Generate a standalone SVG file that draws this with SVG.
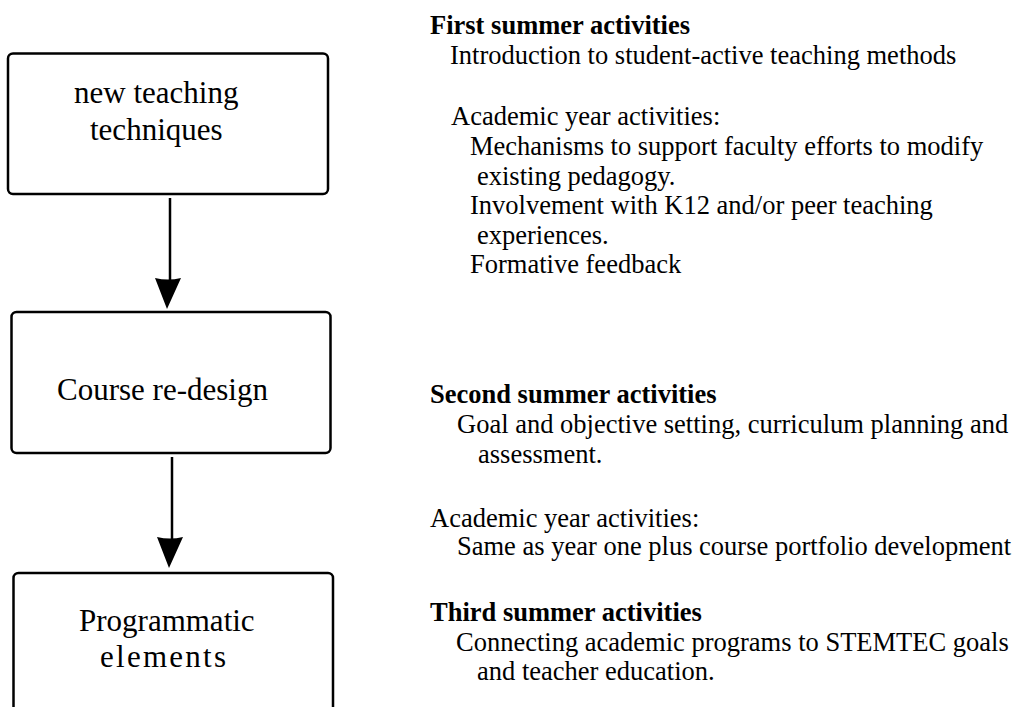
<svg xmlns="http://www.w3.org/2000/svg" width="1016" height="707" viewBox="0 0 1016 707">
<style>
.box{fill:#fff;stroke:#000;stroke-width:2.5}
.bt{font-family:"Liberation Serif","Times New Roman",serif;font-size:31px;fill:#000}
.t{font-family:"Liberation Serif","Times New Roman",serif;font-size:26.5px;fill:#000}
.b{font-weight:bold}
.ln{stroke:#000;stroke-width:2.5;fill:none}
.hd{fill:#000;stroke:none}
</style>
<rect width="1016" height="707" fill="#fff"/>
<g id="node-new-teaching">
<rect class="box" x="8" y="53.5" width="320" height="140.5" rx="5"/>
<text class="bt" x="74" y="103">new teaching</text>
<text class="bt" x="90" y="140">techniques</text>
</g>
<g id="node-course-redesign">
<rect class="box" x="11.5" y="312" width="319" height="141" rx="5"/>
<text class="bt" x="57" y="400">Course re-design</text>
</g>
<g id="node-programmatic">
<rect class="box" x="13.5" y="573" width="319.5" height="150" rx="5"/>
<text class="bt" x="79" y="631">Programmatic</text>
<text class="bt" x="100" y="667" textLength="126" lengthAdjust="spacing">elements</text>
</g>
<g id="connectors">
<line class="ln" x1="170" y1="198" x2="170" y2="282"/>
<path class="hd" d="M155,278 Q168,281 181,278 L167,309 Z"/>
<line class="ln" x1="172" y1="457" x2="172" y2="541"/>
<path class="hd" d="M157,537 Q170,540 183,537 L169,568 Z"/>
</g>
<g id="text-first-summer">
<text class="t b" x="430" y="34">First summer activities</text>
<text class="t" x="450" y="64">Introduction to student-active teaching methods</text>
<text class="t" x="451" y="125">Academic year activities:</text>
<text class="t" x="470" y="155">Mechanisms to support faculty efforts to modify</text>
<text class="t" x="477" y="184.5">existing pedagogy.</text>
<text class="t" x="470" y="214">Involvement with K12 and/or peer teaching</text>
<text class="t" x="477" y="243.5">experiences.</text>
<text class="t" x="470" y="273">Formative feedback</text>
</g>
<g id="text-second-summer">
<text class="t b" x="430" y="403">Second summer activities</text>
<text class="t" x="457" y="433">Goal and objective setting, curriculum planning and</text>
<text class="t" x="478" y="463">assessment.</text>
<text class="t" x="430" y="527">Academic year activities:</text>
<text class="t" x="457" y="555">Same as year one plus course portfolio development</text>
</g>
<g id="text-third-summer">
<text class="t b" x="430" y="621">Third summer activities</text>
<text class="t" x="456" y="651">Connecting academic programs to STEMTEC goals</text>
<text class="t" x="477" y="680">and teacher education.</text>
</g>
</svg>
